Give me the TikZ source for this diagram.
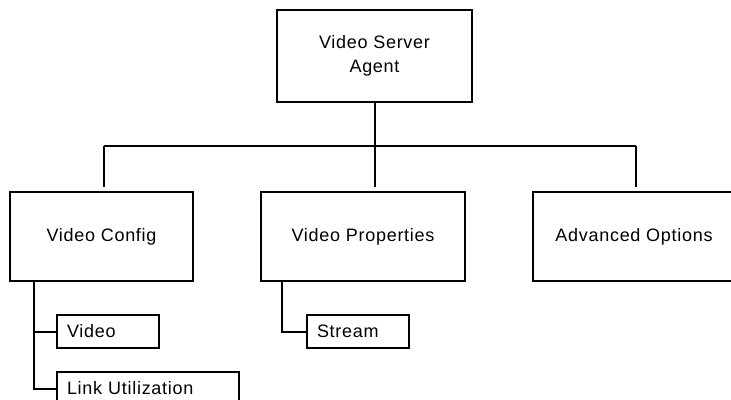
\documentclass[tikz,border=0pt]{standalone}
\usepackage{fontspec}
\setmainfont{Liberation Sans}[LetterSpace=4]
\usetikzlibrary{calc}
\begin{document}
\begin{tikzpicture}[x=1pt,y=-1pt,
  box/.style={draw, line width=2pt, inner sep=0pt, align=center,
    font=\fontsize{18}{24}\selectfont},
  bigbox/.style={box, minimum height=89pt},
  leaf/.style={box, minimum height=33pt, inner xsep=10pt, inner ysep=0pt, align=left},
  conn/.style={line width=2pt}]
\useasboundingbox (0,0) rectangle (731,399);
\clip (0,0) rectangle (731,399);
\fill[white] (0,0) rectangle (731,399);

\node[box, minimum width=195pt, minimum height=92pt] (agent) at (374.5,56) {Video Server\\Agent};
\node[bigbox, minimum width=183pt] (vc) at (101.5,236.5) {Video Config};
\node[bigbox, minimum width=204pt] (vp) at (363,236.5) {Video Properties};
\node[bigbox, minimum width=207pt] (ao) at (636.5,236.5) {\hspace*{-5pt}Advanced Options};
\node[leaf, text width=82pt] (vid) at (108,331.5) {Video};
\node[leaf, text width=82pt] (st) at (358,331.5) {Stream};
\node[leaf, text width=162pt] (lu) at (148,388.5) {Link Utilization};

% main tree
\coordinate (jL) at (103.5,146);
\coordinate (jR) at (635.5,146);
\coordinate (jM) at (agent.south |- jL);
\coordinate (vcT) at ($(vc.north)+(0,4pt)$);
\draw[conn] (agent.south) -- (jM |- vcT);
\draw[conn] (jL) -- (jR);
\draw[conn] (jL) -- (jL |- vcT);
\draw[conn] (jR) -- (jR |- vcT);

% sub trees
\coordinate (vcs) at ($(vc.south west)+(25,0)$);
\draw[conn] (vcs) -- (vcs |- lu.west) -- (lu.west);
\draw[conn] (vcs |- vid.west) -- (vid.west);
\coordinate (vps) at ($(vp.south west)+(22,0)$);
\draw[conn] (vps) |- (st.west);
\end{tikzpicture}
\end{document}
